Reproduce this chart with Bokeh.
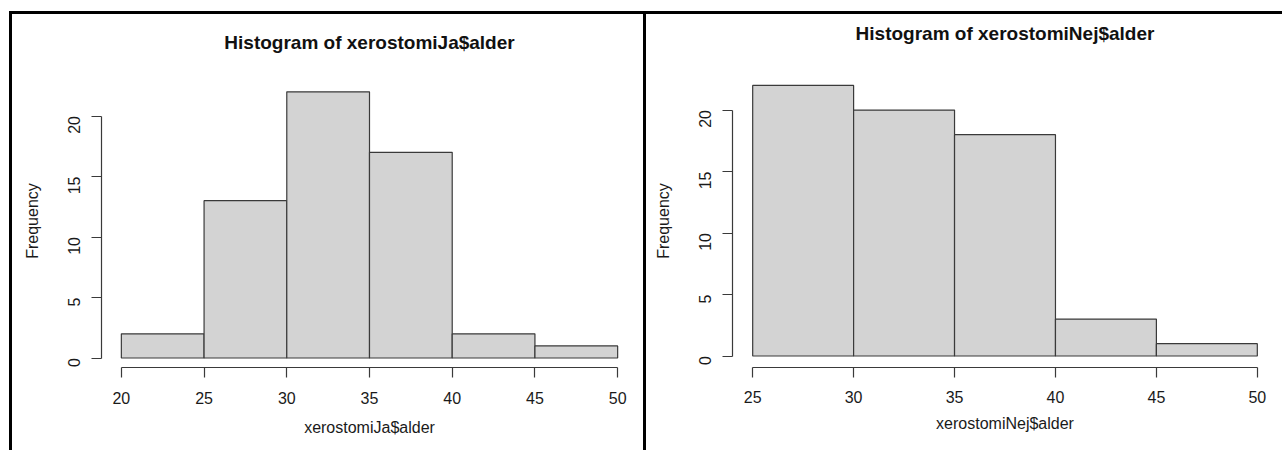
import math
from bokeh.plotting import figure
from bokeh.models import Range1d, FixedTicker, Spacer, ColumnDataSource, Title
from bokeh.layouts import row, column
from bokeh.embed import file_html
from bokeh.resources import INLINE

# ---- data ----
ja_left = [20, 25, 30, 35, 40, 45]
ja_right = [25, 30, 35, 40, 45, 50]
ja_counts = [2, 13, 22, 17, 2, 1]
ja_xticks = [20, 25, 30, 35, 40, 45, 50]

nej_left = [25, 30, 35, 40, 45]
nej_right = [30, 35, 40, 45, 50]
nej_counts = [22, 20, 18, 3, 1]
nej_xticks = [25, 30, 35, 40, 45, 50]

yticks = [0, 5, 10, 15, 20]

FONT = "Liberation Sans"
TEXT = "#1a1a1a"
LINE = "#3a3a3a"


def hist_panel(title, xlabel, left, right, counts, xticks, width, height,
               xr, yr, mb, title_gap, xtick_standoff, xlab_standoff):
    p = figure(width=width, height=height, output_backend="svg",
               toolbar_location=None, x_range=Range1d(*xr), y_range=Range1d(*yr),
               min_border_left=mb[0], min_border_right=mb[1],
               min_border_top=mb[2], min_border_bottom=mb[3],
               title=title)
    p.outline_line_color = None
    p.grid.visible = False
    p.background_fill_color = "white"
    p.border_fill_color = "white"

    src = ColumnDataSource(dict(left=left, right=right, top=counts,
                                bottom=[0] * len(counts)))
    p.quad(left="left", right="right", top="top", bottom="bottom", source=src,
           fill_color="#d3d3d3", line_color=LINE, line_width=1.2)

    p.title.align = "center"
    p.title.text_font = FONT
    p.title.text_font_size = "19px"
    p.title.text_font_style = "bold"
    p.title.text_color = "#111111"
    p.title.standoff = 0
    # empty gap panel between the plot frame and the title
    p.add_layout(Title(text=" ", text_font_size="1px", standoff=title_gap), "above")

    for ax in (p.xaxis[0], p.yaxis[0]):
        ax.axis_line_color = LINE
        ax.axis_line_width = 1.2
        ax.major_tick_line_color = LINE
        ax.major_tick_line_width = 1.2
        ax.major_tick_out = 10
        ax.major_tick_in = 0
        ax.minor_tick_out = 0
        ax.minor_tick_in = 0
        ax.major_label_text_font = FONT
        ax.major_label_text_font_size = "16px"
        ax.major_label_text_color = TEXT
        ax.axis_label_text_font = FONT
        ax.axis_label_text_font_size = "16px"
        ax.axis_label_text_font_style = "normal"
        ax.axis_label_text_color = TEXT

    xa = p.xaxis[0]
    xa.ticker = FixedTicker(ticks=xticks)
    xa.bounds = (xticks[0], xticks[-1])
    xa.axis_label = xlabel
    xa.major_label_standoff = xtick_standoff
    xa.axis_label_standoff = xlab_standoff

    ya = p.yaxis[0]
    ya.ticker = FixedTicker(ticks=yticks)
    ya.bounds = (yticks[0], yticks[-1])
    ya.axis_label = "Frequency"
    ya.major_label_orientation = math.pi / 2
    ya.major_label_standoff = 17
    ya.axis_label_standoff = 19
    return p


H = 436
p1 = hist_panel("Histogram of xerostomiJa$alder", "xerostomiJa$alder",
                ja_left, ja_right, ja_counts, ja_xticks, 631, H,
                (18.8, 51.2), (-0.785, 23.43), (89, 6, 60, 83), 19, 14, 12)
p2 = hist_panel("Histogram of xerostomiNej$alder", "xerostomiNej$alder",
                nej_left, nej_right, nej_counts, nej_xticks, 636, H,
                (24, 51), (-0.935, 22.89), (86, 5, 60, 83), 28, 13, 9)

black = {"background-color": "black"}
layout = column(
    Spacer(width=1282, height=11),
    row(Spacer(width=9, height=3), Spacer(width=1273, height=3, styles=black)),
    row(Spacer(width=9, height=H), Spacer(width=3, height=H, styles=black),
        p1, Spacer(width=3, height=H, styles=black), p2),
)

open("out.html", "w").write(file_html(layout, INLINE))
